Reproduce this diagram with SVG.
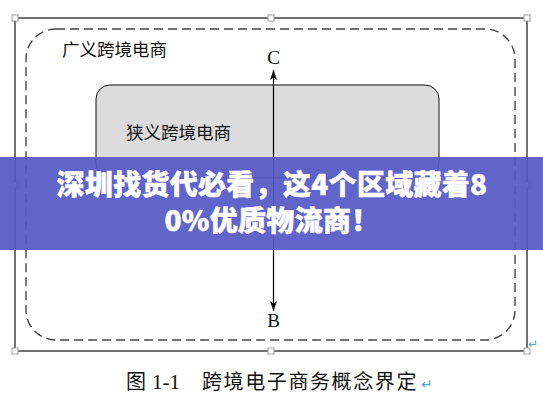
<svg xmlns="http://www.w3.org/2000/svg" width="543" height="408" viewBox="0 0 543 408">
  <defs>
    <marker id="arr" viewBox="0 0 10 10" refX="10" refY="5" markerWidth="10" markerHeight="10" markerUnits="userSpaceOnUse" orient="auto">
      <path d="M0,1.5 L10,5 L0,8.5 L2.5,5 Z" fill="#000"/>
    </marker>
  </defs>
  <style>
    .h{fill:#fff;stroke:#999;stroke-width:1}
    .cjk{font-family:"Noto Sans CJK SC",sans-serif;fill:#111}
    .ser{font-family:"Liberation Serif",serif;fill:#111}
    .ret{font-family:"DejaVu Sans",sans-serif;fill:#4ba3e8}
    .ban{font-family:"Noto Sans CJK SC",sans-serif;font-weight:900;fill:#fff;stroke:#fff;stroke-width:0.5;font-size:28px;letter-spacing:0.3px}
  </style>
  <rect width="543" height="408" fill="#fff"/>
  <g id="frame">
    <rect x="15" y="18" width="512" height="333" fill="none" stroke="#444" stroke-width="1.5"/>
    <rect class="h" x="12" y="15" width="6" height="6"/>
    <rect class="h" x="268" y="15" width="6" height="6"/>
    <rect class="h" x="524" y="15" width="6" height="6"/>
    <rect class="h" x="12" y="182" width="6" height="6"/>
    <rect class="h" x="524" y="182" width="6" height="6"/>
    <rect class="h" x="12" y="348" width="6" height="6"/>
    <rect class="h" x="268" y="348" width="6" height="6"/>
    <rect class="h" x="524" y="348" width="6" height="6"/>
  </g>
  <g id="broad">
    <rect x="26" y="29" width="489" height="311" rx="30" ry="30" fill="none" stroke="#444" stroke-width="1.4" stroke-dasharray="9 5"/>
    <text class="cjk" x="62" y="56" font-size="17.5">广义跨境电商</text>
  </g>
  <g id="narrow">
    <rect x="96" y="85" width="343" height="93" rx="14" ry="14" fill="#dcdcdc" stroke="#111" stroke-width="1"/>
    <text class="cjk" x="126" y="139" font-size="17.5">狭义跨境电商</text>
  </g>
  <g id="connectors">
    <line x1="273.5" y1="185" x2="273.5" y2="70" stroke="#000" stroke-width="1.2" marker-end="url(#arr)"/>
    <line x1="273.5" y1="185" x2="273.5" y2="311" stroke="#000" stroke-width="1.2" marker-end="url(#arr)"/>
  </g>
  <g id="labelC"><text class="ser" x="273.5" y="64" font-size="19" text-anchor="middle">C</text></g>
  <g id="labelB"><text class="ser" x="273.5" y="327" font-size="19" text-anchor="middle">B</text></g>
  <text class="ret" x="528" y="348" font-size="12">↵</text>
  <g id="caption">
    <text class="cjk" x="126" y="389" font-size="20">图</text>
    <text class="ser" x="152" y="389" font-size="21">1-1</text>
    <text class="cjk" x="202" y="389" font-size="20" letter-spacing="1.6">跨境电子商务概念界定</text>
    <text class="ret" x="421" y="389" font-size="14">↵</text>
  </g>
  <g id="banner">
    <rect x="0" y="157" width="543" height="93" fill="#5558c4" fill-opacity="0.93"/>
    <text class="ban" x="272" y="195" text-anchor="middle">深圳找货代必看，这4个区域藏着8</text>
    <text class="ban" x="272" y="231" text-anchor="middle">0%优质物流商！</text>
  </g>
</svg>
